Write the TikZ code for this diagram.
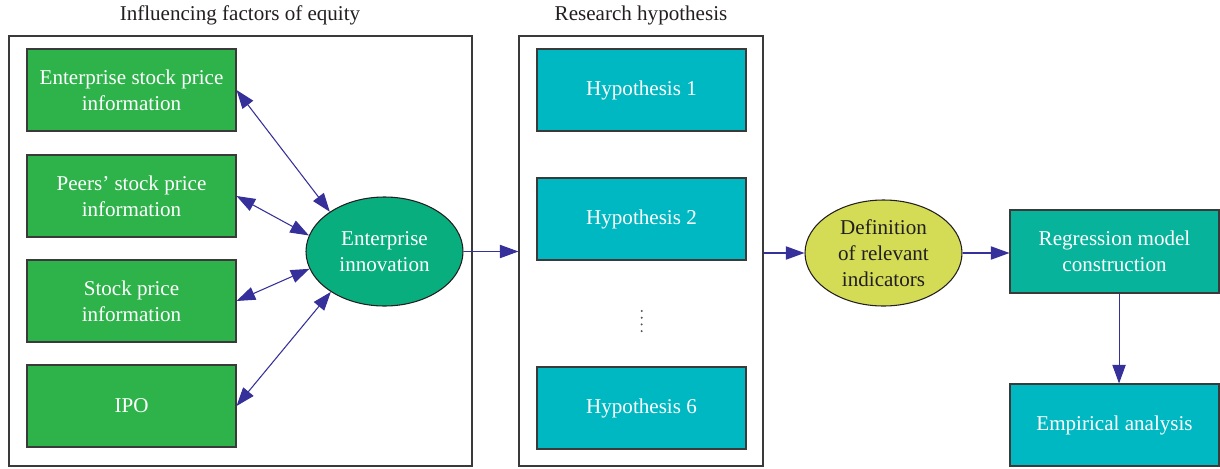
\documentclass[tikz,border=0pt]{standalone}
\usepackage{fontspec}
\setmainfont{Liberation Serif}
\usepackage{tikz}
\usetikzlibrary{arrows.meta, shapes.geometric}
\usepackage{xcolor}
\definecolor{factgreen}{HTML}{2EB34B}
\definecolor{innovgreen}{HTML}{09AE7E}
\definecolor{hypcyan}{HTML}{00B8C2}
\definecolor{defyellow}{HTML}{D4DC55}
\definecolor{regteal}{HTML}{07B39A}
\definecolor{linkblue}{HTML}{35309A}
\definecolor{edgegray}{HTML}{3A3A3A}
\definecolor{inkgray}{HTML}{231F20}

\begin{document}
\begin{tikzpicture}[x=0.75pt, y=-0.75pt,
    font=\fontsize{15.8}{19.5}\selectfont,
    linktip/.tip={Triangle[length=14pt, width=10pt]},
    frame/.style={draw=edgegray, line width=0.8pt, inner sep=0pt, minimum height=322.5pt},
    stepbox/.style={rectangle, draw=edgegray, line width=0.8pt, text=white, align=center,
      minimum width=156.75pt, minimum height=61.5pt, inner sep=2pt},
    oval/.style={ellipse, draw=inkgray, line width=0.8pt, align=center,
      minimum width=117.75pt, inner sep=0pt},
    link/.style={draw=linkblue, line width=0.8pt, arrows={-linktip}},
    title/.style={text=inkgray}]
  \useasboundingbox (0,0) rectangle (1220,468);
  % the two frames first, so that the boxes lie on them
  \node[frame, minimum width=347.25pt] (eqframe) at (240.5,251) {};
  \node[frame, minimum width=183pt] (hypframe) at (641,251) {};
  \node[title] (eqtitle) at (240,15) {Influencing factors of equity};
  \node[title] (hyptitle) at (641,15) {Research hypothesis};
  % influencing factors
  \node[stepbox, fill=factgreen] (f1) at (131.5,90) {Enterprise stock price\\information};
  \node[stepbox, fill=factgreen] (f2) at (131.5,196) {Peers' stock price\\information};
  \node[stepbox, fill=factgreen] (f3) at (131.5,301) {Stock price\\information};
  \node[stepbox, fill=factgreen] (f4) at (131.5,406) {IPO};
  \node[oval, fill=innovgreen, text=white, minimum height=81.75pt] (innov) at (384.5,251.5)
    {Enterprise\\innovation};
  \foreach \b/\a in {f1/144, f2/168, f3/193, f4/217}
    \draw[link, arrows={linktip-linktip}] (\b.east) -- (innov.\a);
  % hypotheses, with a column of dots for the ones left out
  \node[stepbox, fill=hypcyan] (h1) at (641.5,90) {Hypothesis 1};
  \node[stepbox, fill=hypcyan] (h2) at (641.5,219) {Hypothesis 2};
  \foreach \y in {311,317.7,324.4,331.1}
    \fill[edgegray!85] (641.7,\y) circle (0.85pt);
  \node[stepbox, fill=hypcyan] (h6) at (641.5,408) {Hypothesis 6};
  % analysis chain
  \node[oval, fill=defyellow, text=inkgray, minimum height=79.5pt] (defn) at (883.5,253)
    {Definition\\of relevant\\indicators};
  \node[stepbox, fill=regteal, minimum height=62.25pt] (regr) at (1114.5,251.5)
    {Regression model\\construction};
  \node[stepbox, fill=hypcyan] (empir) at (1114.5,425) {Empirical analysis};
  \draw[link] (innov.east) -- (innov.east -| hypframe.west);
  \draw[link] (hypframe.east |- defn.west) -- (defn.west);
  \draw[link] (defn.east) -- (defn.east -| regr.west);
  \draw[link] ([xshift=3.4pt]regr.south) -- ([xshift=3.4pt]empir.north);
\end{tikzpicture}
\end{document}
